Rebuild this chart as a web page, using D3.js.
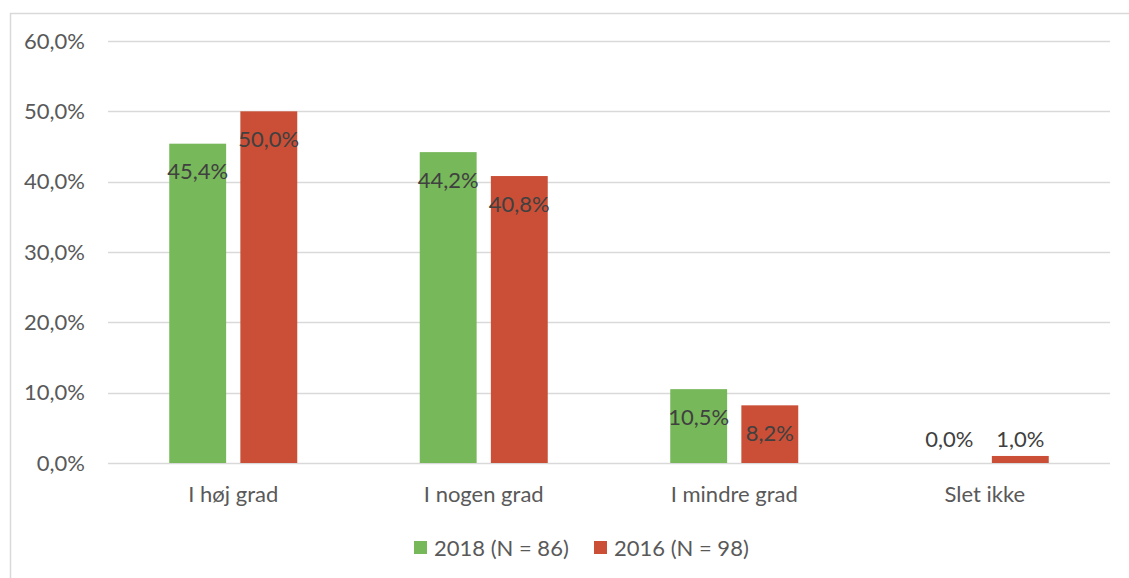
<!DOCTYPE html>
<html><head><meta charset="utf-8">
<script src="https://cdn.jsdelivr.net/npm/d3@7"></script>
<style>body{margin:0;background:#fff;} svg{display:block;font-family:Lato,"Open Sans",sans-serif;}</style>
</head><body>
<svg id="c" width="1129" height="578"></svg>
<script>
const categories = ["I høj grad", "I nogen grad", "I mindre grad", "Slet ikke"];
const seriesNames = ["2018 (N = 86)", "2016 (N = 98)"];
const values2018 = [45.4, 44.2, 10.5, 0.0];
const values2016 = [50.0, 40.8, 8.2, 1.0];
const yTicks = [0, 10, 20, 30, 40, 50, 60];
const colors = ["#77B85A", "#CB4F37"];

(function () {
const svg = d3.select("#c");
const fmt = v => d3.format(".1f")(v).replace(".", ",") + "%";
const FS = 22;

// outer border
svg.append("rect").attr("x", 10.5).attr("y", 13.5).attr("width", 1140).attr("height", 600)
  .attr("fill", "none").attr("stroke", "#d9d9d9").attr("stroke-width", 1.5);

const pLeft = 108, pRight = 1110, pTop = 41, pBottom = 463;
const x0 = d3.scaleBand().domain(categories).range([pLeft, pRight]).padding(0);
const x1 = d3.scaleBand().domain(seriesNames).range([-64, 64]).paddingInner(0.2).paddingOuter(0);
const y = d3.scaleLinear().domain([0, 60]).range([pBottom, pTop]);

// gridlines
svg.append("g").selectAll("line").data(yTicks).join("line")
  .attr("x1", pLeft).attr("x2", pRight)
  .attr("y1", d => Math.round(y(d)) + 0.5).attr("y2", d => Math.round(y(d)) + 0.5)
  .attr("stroke", "#d9d9d9").attr("stroke-width", 1.5);

// y axis labels
const yAxis = d3.axisLeft(y).tickValues(yTicks).tickSize(0).tickPadding(0).tickFormat(fmt);
const gy = svg.append("g").attr("transform", `translate(85,0)`).call(yAxis);
gy.select(".domain").remove();
gy.selectAll("text").attr("fill", "#595959").attr("font-size", FS).attr("font-family", "Lato,sans-serif");

// x axis labels
const xAxis = d3.axisBottom(x0).tickSize(0).tickPadding(0);
const gx = svg.append("g").attr("transform", `translate(0,${pBottom})`).call(xAxis);
gx.select(".domain").remove();
gx.selectAll("text").attr("fill", "#595959").attr("font-size", FS).attr("font-family", "Lato,sans-serif")
  .attr("dy", null).attr("y", 39);

const data = categories.map((c, i) => ({
  cat: c,
  vals: [{s: seriesNames[0], v: values2018[i], k: 0}, {s: seriesNames[1], v: values2016[i], k: 1}]
}));

const groups = svg.append("g").selectAll("g").data(data).join("g")
  .attr("transform", d => `translate(${x0(d.cat) + x0.bandwidth() / 2},0)`);

groups.selectAll("rect").data(d => d.vals).join("rect")
  .attr("x", d => x1(d.s)).attr("width", x1.bandwidth())
  .attr("y", d => y(d.v)).attr("height", d => pBottom - y(d.v))
  .attr("fill", d => colors[d.k]);

groups.selectAll("text").data(d => d.vals).join("text")
  .attr("x", d => x1(d.s) + x1.bandwidth() / 2)
  .attr("y", d => (pBottom - y(d.v) < 40) ? pBottom - 24 : y(d.v) + 28)
  .attr("dy", "0.35em")
  .attr("text-anchor", "middle").attr("font-size", FS).attr("fill", "#404040")
  .text(d => fmt(d.v));

// legend
const legend = svg.append("g");
const lx = [414, 594];
seriesNames.forEach((s, i) => {
  legend.append("rect").attr("x", lx[i]).attr("y", 541).attr("width", 13).attr("height", 13).attr("fill", colors[i]);
  legend.append("text").attr("x", lx[i] + 20).attr("y", 548).attr("dy", "0.35em")
    .attr("font-size", FS).attr("fill", "#595959").text(s);
});
})();
</script>
</body></html>
